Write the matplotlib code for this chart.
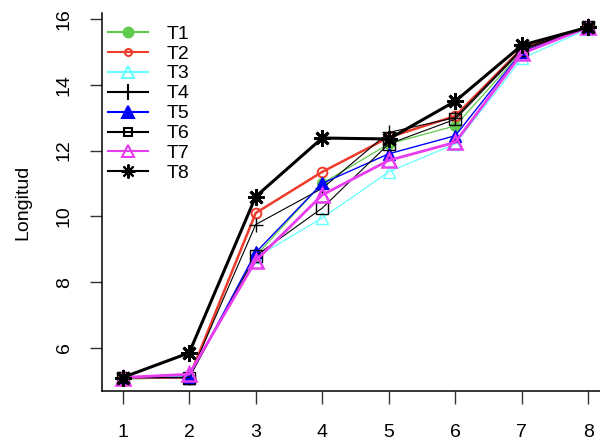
import matplotlib
matplotlib.use("Agg")
import matplotlib.pyplot as plt
from matplotlib.lines import Line2D

plt.rcParams['font.family'] = ['Liberation Sans', 'DejaVu Sans']

x = [1, 2, 3, 4, 5, 6, 7, 8]
labels = ["T1", "T2", "T3", "T4", "T5", "T6", "T7", "T8"]
T1 = [5.05, 5.1, 8.8, 11.0, 12.2, 12.75, 15.0, 15.75]
T2 = [5.1, 5.1, 10.1, 11.35, 12.4, 13.05, 15.1, 15.75]
T3 = [5.1, 5.15, 8.75, 9.95, 11.35, 12.2, 14.8, 15.7]
T4 = [5.1, 5.1, 9.75, 10.85, 12.55, 13.0, 15.1, 15.75]
T5 = [5.1, 5.1, 8.9, 11.0, 11.9, 12.45, 15.0, 15.75]
T6 = [5.1, 5.1, 8.8, 10.25, 12.2, 12.95, 15.05, 15.75]
T7 = [5.1, 5.2, 8.65, 10.65, 11.7, 12.25, 14.95, 15.75]
T8 = [5.1, 5.85, 10.6, 12.38, 12.35, 13.5, 15.2, 15.75]
series = [T1, T2, T3, T4, T5, T6, T7, T8]
yticks = [6, 8, 10, 12, 14, 16]

colors = ["#5FCB4A", "#EE3B2B", "#66FFFF", "#000000", "#0000FF", "#000000", "#E83CF0", "#000000"]
markers = ["o", "o", "^", "+", "^", "s", "^", (8, 2, 0)]
filled = [True, False, False, False, True, False, False, False]
lws = [0.9, 1.8, 0.9, 0.8, 1.0, 0.8, 2.0, 2.2]
mss = [7, 7, 9, 10, 8, 8, 10, 12]
mews = [1.0, 1.4, 1.0, 1.0, 1.0, 1.0, 1.8, 2.0]
leg_ms = [7, 5, 8, 11, 8, 6, 8, 10]

fig = plt.figure(figsize=(6.0, 4.42), dpi=100)
ax = fig.add_axes([102/600, 1 - 391/442, (609 - 102)/600, (391 - 13)/442])

for i, s in enumerate(series):
    c = colors[i]
    ax.plot(x, s, color=c, lw=lws[i], marker=markers[i], ms=mss[i],
            mec=c, mfc=(c if filled[i] else 'none'), mew=mews[i],
            zorder=2 + i, clip_on=False)

ax.set_xlim(0.69, 8.31)
ax.set_ylim(4.69, 16.18)
ax.set_xticks(x)
ax.set_yticks(yticks)
ax.set_xticklabels([str(v) for v in x], fontsize=14)
ax.set_yticklabels([str(v) for v in yticks], fontsize=14, rotation=90, va='center')
ax.tick_params(axis='both', length=9, width=1.0, color='#333333')
ax.tick_params(axis='x', pad=15)
ax.tick_params(axis='y', pad=12)
ax.spines['top'].set_visible(False)
ax.spines['right'].set_visible(False)
ax.spines['left'].set_linewidth(1.1)
ax.spines['bottom'].set_linewidth(1.1)
ax.set_ylabel("Longitud", fontsize=14)
ax.yaxis.set_label_coords(-(102 - 31) / 507, 0.5)

handles = []
for i in range(8):
    c = colors[i]
    handles.append(Line2D([], [], color=c, lw=1.5, marker=markers[i], ms=leg_ms[i],
                          mec=c, mfc=(c if filled[i] else 'none'), mew=1.5))
leg = ax.legend(handles, labels, loc='upper left', bbox_to_anchor=(108/600, 1 - 25/442),
                bbox_transform=fig.transFigure, frameon=False, fontsize=14,
                handlelength=2.06, handletextpad=0.93, labelspacing=0.12,
                borderaxespad=0, borderpad=0)

fig.savefig("out.png", dpi=100)
